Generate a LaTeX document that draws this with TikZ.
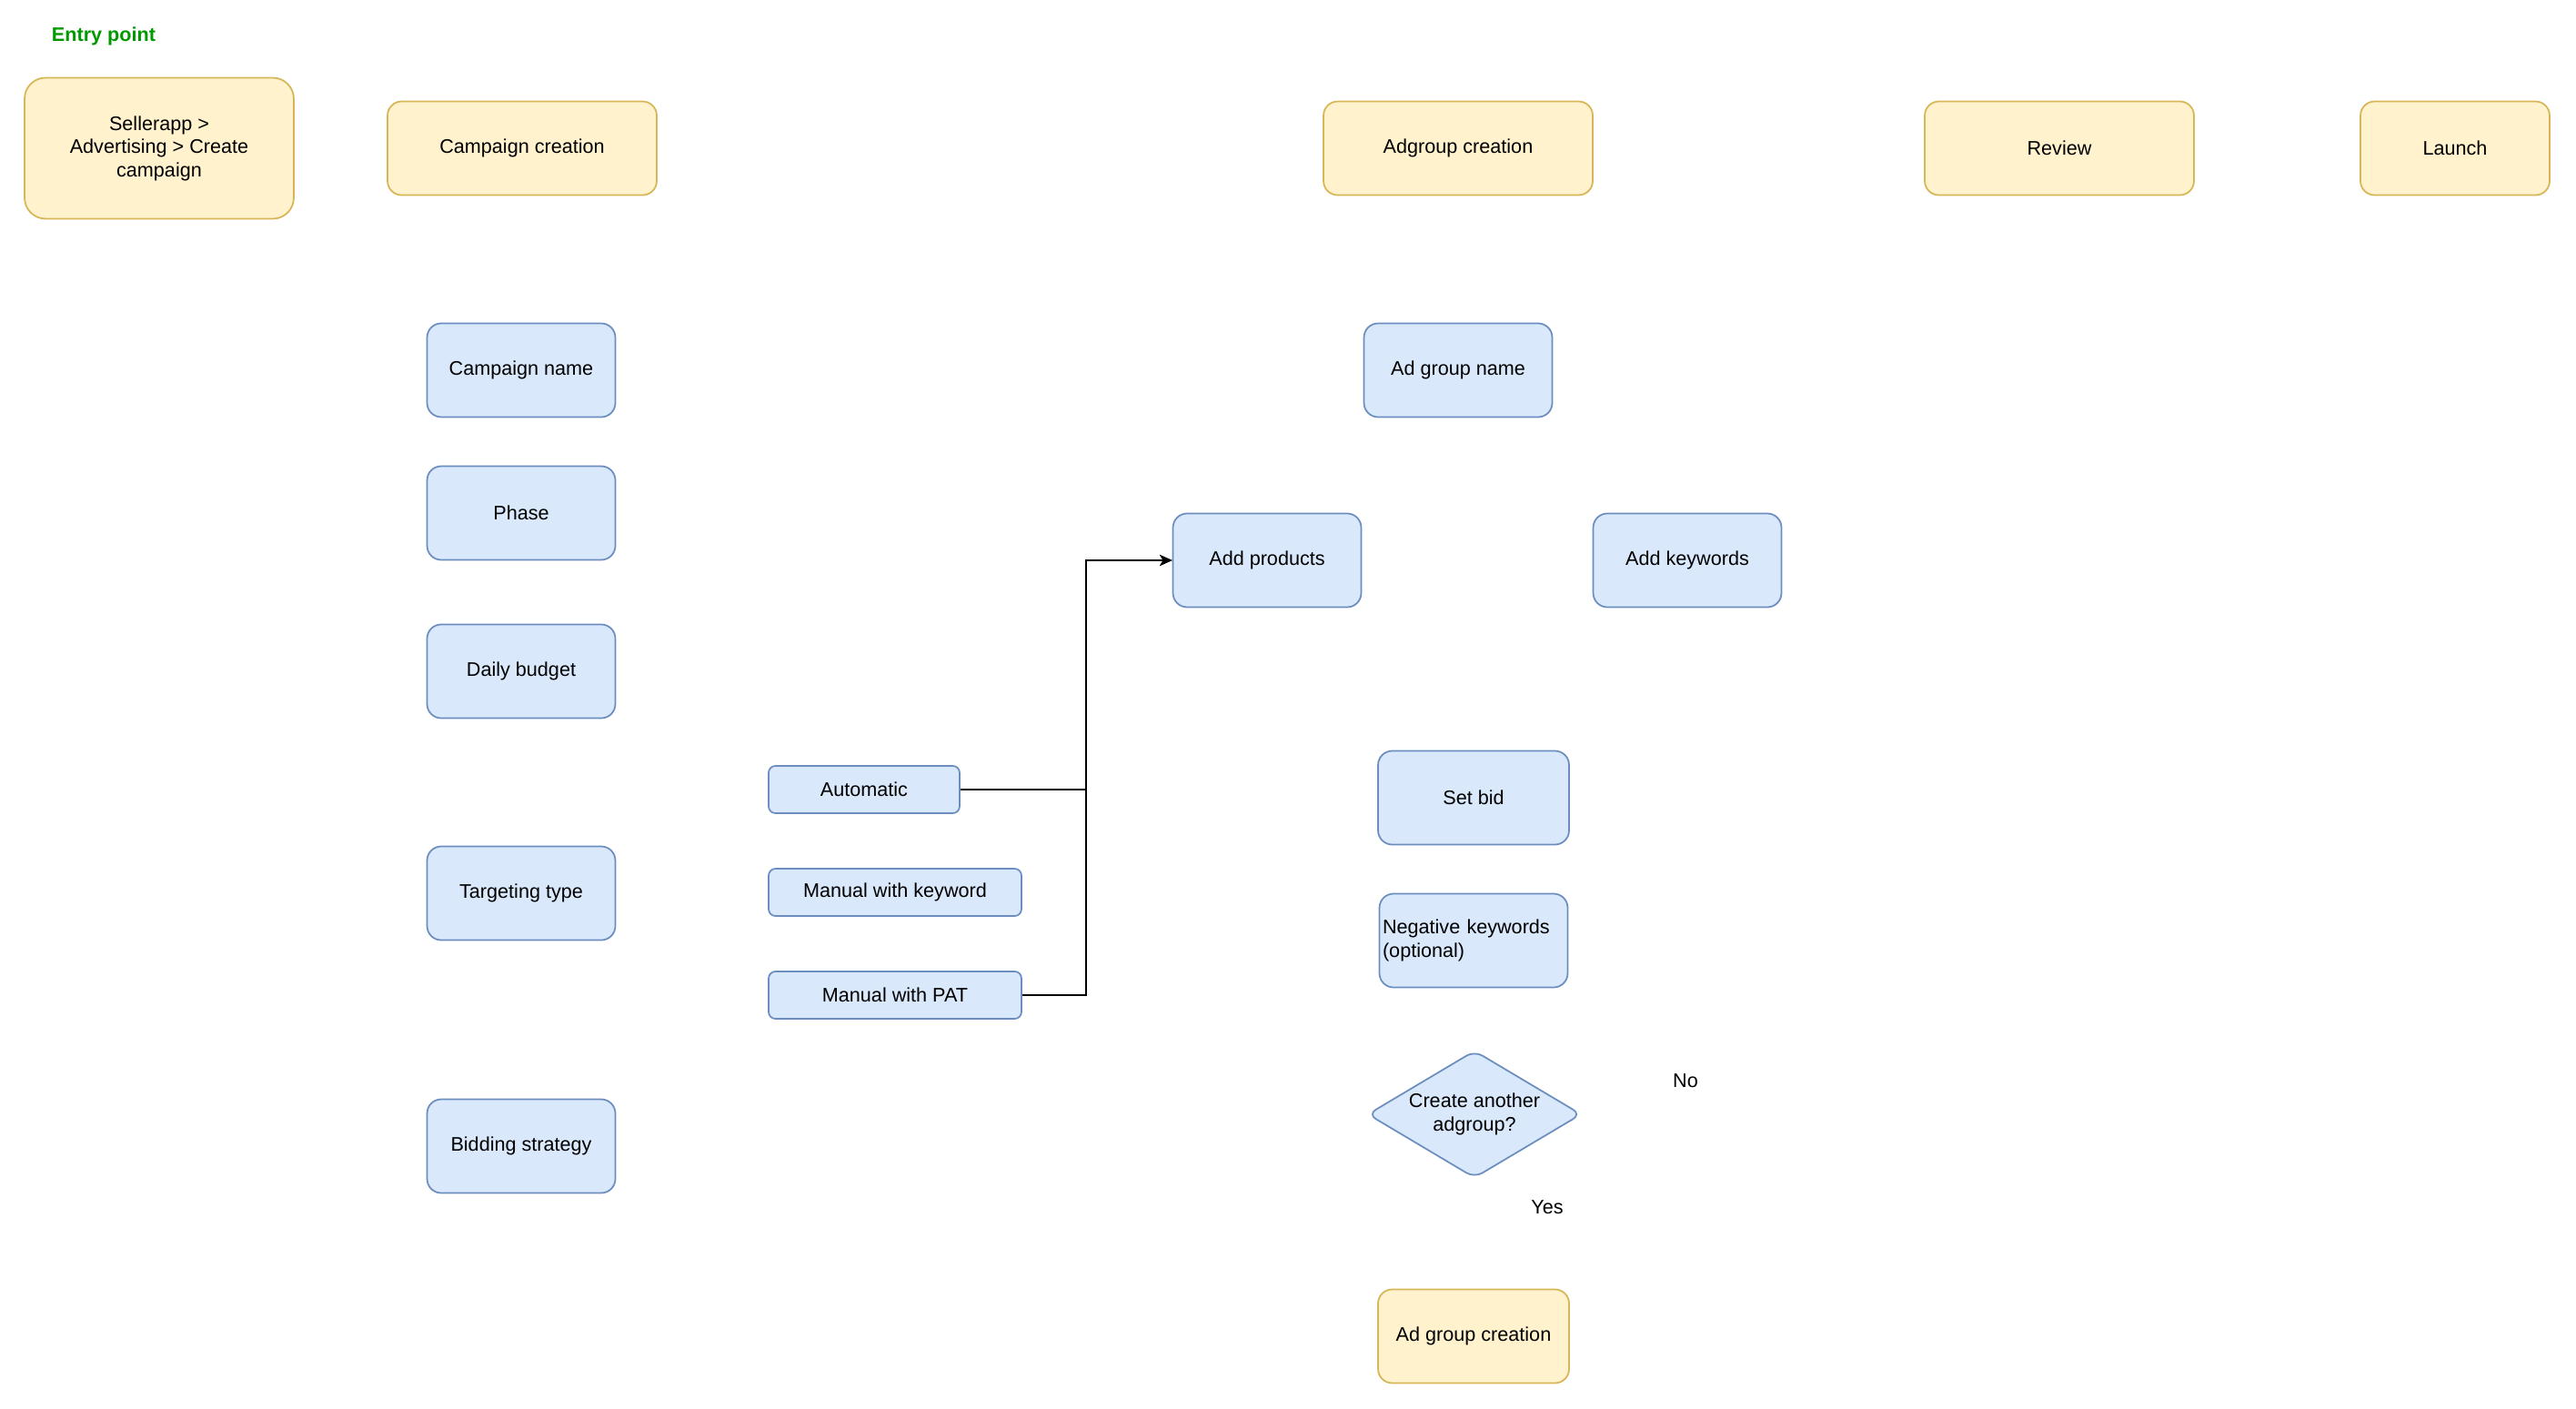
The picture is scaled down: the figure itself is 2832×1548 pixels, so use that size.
\documentclass[tikz,border=0pt]{standalone}
\usepackage{fontspec}
\setmainfont{Liberation Sans}
\usetikzlibrary{shapes.geometric, arrows.meta}
\definecolor{stageFill}{HTML}{FFF2CC}
\definecolor{stageLine}{HTML}{D6B656}
\definecolor{fieldFill}{HTML}{DAE8FC}
\definecolor{fieldLine}{HTML}{6C8EBF}
\definecolor{entryGreen}{HTML}{009900}

\begin{document}
\begin{tikzpicture}[x=0.02cm, y=-0.02cm,
        >={Stealth[length=0.27cm, width=0.24cm, inset=0.07cm]},
        every node/.style={font=\fontsize{12.3}{14.5}\selectfont, align=center},
        stage/.style={draw=stageLine, fill=stageFill, line width=1pt,
            rounded corners=0.31cm, minimum width=5.92cm, minimum height=2.06cm},
        field/.style={draw=fieldLine, fill=fieldFill, line width=1pt,
            rounded corners=0.31cm, minimum width=4.14cm, minimum height=2.06cm},
        option/.style={field, rounded corners=0.15cm, minimum width=4.2cm, minimum height=1.04cm}]
        \useasboundingbox (0,0) rectangle (2832,1548);
        % stages along the top
        \node[text=entryGreen, font=\fontsize{12.3}{14.5}\selectfont\bfseries] (entrylbl) at (114,40) {Entry point};
        \node[stage, minimum height=3.1cm, rounded corners=0.46cm] (entry) at (175,163) {Sellerapp >\\Advertising > Create\\campaign};
        \node[stage] (camp) at (574,163) {Campaign creation};
        \node[stage] (adgrp) at (1603,163) {Adgroup creation};
        \node[stage] (review) at (2264,163) {Review};
        \node[stage, minimum width=4.16cm] (launch) at (2699,163) {Launch};
        % campaign fields
        \node[field] (cname) at (573,407) {Campaign name};
        \node[field] (phase) at (573,564) {Phase};
        \node[field] (budget) at (573,738) {Daily budget};
        \node[field] (target) at (573,982) {Targeting type};
        \node[field] (bidding) at (573,1260) {Bidding strategy};
        % targeting options
        \node[option] (auto) at (950,868) {Automatic};
        \node[option, minimum width=5.56cm] (kwopt) at (984,981) {Manual with keyword};
        \node[option, minimum width=5.56cm] (pat) at (984,1094) {Manual with PAT};
        % ad group fields
        \node[field] (agname) at (1603,407) {Ad group name};
        \node[field] (prod) at (1393,616) {Add products};
        \node[field] (kw) at (1855,616) {Add keywords};
        \node[field, minimum width=4.2cm] (bid) at (1620,877) {Set bid};
        \node[field, text width=4.0cm, inner xsep=0.07cm, align=left] (negkw) at (1620,1034) {Negative keywords\\(optional)};
        \node[diamond, draw=fieldLine, fill=fieldFill, line width=1pt, rounded corners=0.2cm,
            shape aspect=1.68, inner sep=0pt, minimum width=4.7cm, minimum height=2.8cm] (again) at (1621,1225) {Create another\\adgroup?};
        \node (no) at (1853,1188) {No};
        \node (yes) at (1701,1327) {Yes};
        \node[stage, minimum width=4.2cm] (next) at (1620,1469) {Ad group creation};
        % connectors
        \coordinate (bend) at (1194,616);
        \draw[->, line width=1pt] (auto.east) -| (bend) -- (prod.west);
        \draw[->, line width=1pt] (pat.east) -| (bend) -- (prod.west);
    \end{tikzpicture}
\end{document}
